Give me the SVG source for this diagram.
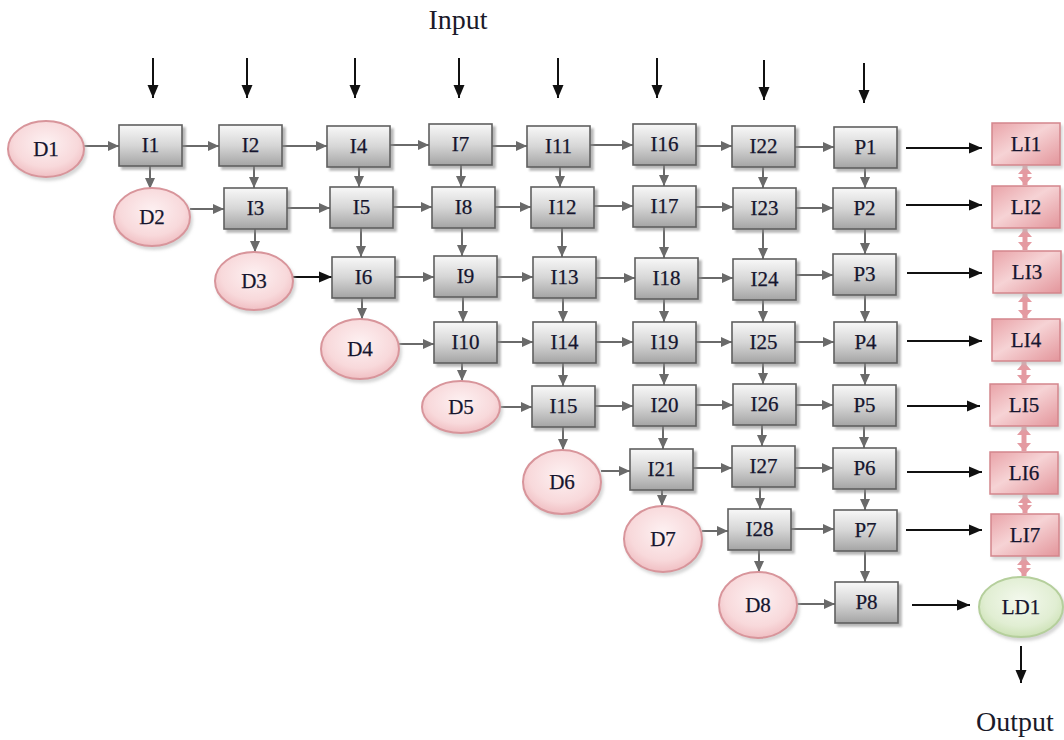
<svg xmlns="http://www.w3.org/2000/svg" width="1064" height="740" viewBox="0 0 1064 740">
<style>
.t{font-family:"Liberation Serif","Times New Roman",serif;font-size:21px;fill:#15152e;text-anchor:middle;stroke:#15152e;stroke-width:0.25}
.big{font-family:"Liberation Serif","Times New Roman",serif;font-size:28px;fill:#1a1a2a;text-anchor:middle}
.box{fill:url(#gBox);stroke:#5f5f5f;stroke-width:1.6;filter:url(#sh)}
.li{fill:url(#gLI);stroke:#d4868d;stroke-width:1.5;filter:url(#sh2)}
.d{fill:url(#gD);stroke:#d8959b;stroke-width:2;filter:url(#sh2)}
.ld{fill:url(#gLD);stroke:#b5cf9c;stroke-width:2;filter:url(#sh2)}
.g{stroke:#6a6a6a;stroke-width:2;fill:none;marker-end:url(#aG)}
.k{stroke:#111;stroke-width:2;fill:none;marker-end:url(#aK)}
.p{stroke:#e49aa1;stroke-width:5;fill:none;marker-end:url(#aP);marker-start:url(#aPs)}
</style>
<defs>
<linearGradient id="gBox" x1="0" y1="0" x2="0" y2="1">
<stop offset="0" stop-color="#f8f8f8"/><stop offset="0.5" stop-color="#d6d6d6"/><stop offset="1" stop-color="#a4a4a4"/>
</linearGradient>
<linearGradient id="gLI" x1="0" y1="0" x2="1" y2="1">
<stop offset="0" stop-color="#e9a3a8"/><stop offset="0.45" stop-color="#f6d3d5"/><stop offset="1" stop-color="#e3959b"/>
</linearGradient>
<radialGradient id="gD" cx="0.5" cy="0.4" r="0.6">
<stop offset="0" stop-color="#fdf1f2"/><stop offset="0.7" stop-color="#f8d9db"/><stop offset="1" stop-color="#f0bfc3"/>
</radialGradient>
<radialGradient id="gLD" cx="0.5" cy="0.4" r="0.6">
<stop offset="0" stop-color="#f4f9ee"/><stop offset="0.7" stop-color="#e1eed3"/><stop offset="1" stop-color="#cde2b6"/>
</radialGradient>
<filter id="sh" x="-10%" y="-10%" width="130%" height="140%">
<feDropShadow dx="3" dy="3" stdDeviation="1.2" flood-color="#888" flood-opacity="0.6"/>
</filter>
<filter id="sh2" x="-10%" y="-10%" width="130%" height="140%">
<feDropShadow dx="2" dy="3" stdDeviation="1.5" flood-color="#bbb" flood-opacity="0.6"/>
</filter>
<marker id="aG" markerUnits="userSpaceOnUse" markerWidth="12" markerHeight="12" refX="11" refY="6" orient="auto">
<path d="M0,1 L11,6 L0,11 z" fill="#6a6a6a"/>
</marker>
<marker id="aK" markerUnits="userSpaceOnUse" markerWidth="14" markerHeight="12" refX="13" refY="6" orient="auto">
<path d="M0,0.5 L13,6 L0,11.5 z" fill="#111"/>
</marker>
<marker id="aP" markerUnits="userSpaceOnUse" markerWidth="12" markerHeight="14" refX="8" refY="7" orient="auto">
<path d="M0,0 L8,7 L0,14 z" fill="#e49aa1"/>
</marker>
<marker id="aPs" markerUnits="userSpaceOnUse" markerWidth="12" markerHeight="14" refX="0" refY="7" orient="auto">
<path d="M8,0 L0,7 L8,14 z" fill="#e49aa1"/>
</marker>
</defs>
<rect width="1064" height="740" fill="#fff"/>
<text class="big" x="458" y="29">Input</text>
<text class="big" x="1015" y="731">Output</text>

<g id="connectors">
<line class="k" x1="153" y1="58" x2="153" y2="98"/>
<line class="k" x1="247" y1="58" x2="247" y2="98"/>
<line class="k" x1="355" y1="58" x2="355" y2="98"/>
<line class="k" x1="459" y1="58" x2="459" y2="98"/>
<line class="k" x1="558" y1="58" x2="558" y2="98"/>
<line class="k" x1="657" y1="58" x2="657" y2="98"/>
<line class="k" x1="764" y1="60" x2="764" y2="100"/>
<line class="k" x1="864" y1="63" x2="864" y2="103"/>
<line class="k" x1="1021" y1="646" x2="1021" y2="683"/>
<line class="k" x1="906" y1="148" x2="982" y2="148"/>
<line class="k" x1="906" y1="205" x2="982" y2="205"/>
<line class="k" x1="907" y1="273" x2="982" y2="273"/>
<line class="k" x1="907" y1="341" x2="982" y2="341"/>
<line class="k" x1="907" y1="406" x2="980" y2="406"/>
<line class="k" x1="907" y1="472" x2="982" y2="472"/>
<line class="k" x1="906" y1="530" x2="982" y2="530"/>
<line class="k" x1="912" y1="605" x2="970" y2="605"/>
<line class="k" x1="293" y1="277" x2="332" y2="277"/>
<line class="g" x1="84" y1="146" x2="119" y2="146"/>
<line class="g" x1="182" y1="146" x2="219" y2="146"/>
<line class="g" x1="282" y1="146" x2="327" y2="146"/>
<line class="g" x1="390" y1="145" x2="429" y2="145"/>
<line class="g" x1="492" y1="146" x2="527" y2="146"/>
<line class="g" x1="590" y1="145" x2="633" y2="145"/>
<line class="g" x1="696" y1="146" x2="732" y2="146"/>
<line class="g" x1="795" y1="147" x2="834" y2="147"/>
<line class="g" x1="190" y1="209" x2="224" y2="209"/>
<line class="g" x1="287" y1="208" x2="330" y2="208"/>
<line class="g" x1="393" y1="207" x2="432" y2="207"/>
<line class="g" x1="495" y1="207" x2="531" y2="207"/>
<line class="g" x1="594" y1="206" x2="633" y2="206"/>
<line class="g" x1="696" y1="207" x2="733" y2="207"/>
<line class="g" x1="796" y1="208" x2="833" y2="208"/>
<line class="g" x1="395" y1="277" x2="434" y2="277"/>
<line class="g" x1="497" y1="277" x2="533" y2="277"/>
<line class="g" x1="596" y1="278" x2="635" y2="278"/>
<line class="g" x1="698" y1="278" x2="733" y2="278"/>
<line class="g" x1="796" y1="275" x2="833" y2="275"/>
<line class="g" x1="399" y1="344" x2="434" y2="344"/>
<line class="g" x1="497" y1="342" x2="533" y2="342"/>
<line class="g" x1="596" y1="342" x2="633" y2="342"/>
<line class="g" x1="696" y1="342" x2="732" y2="342"/>
<line class="g" x1="795" y1="342" x2="834" y2="342"/>
<line class="g" x1="500" y1="407" x2="532" y2="407"/>
<line class="g" x1="595" y1="406" x2="633" y2="406"/>
<line class="g" x1="696" y1="405" x2="733" y2="405"/>
<line class="g" x1="796" y1="405" x2="833" y2="405"/>
<line class="g" x1="601" y1="471" x2="630" y2="471"/>
<line class="g" x1="693" y1="468" x2="732" y2="468"/>
<line class="g" x1="795" y1="468" x2="833" y2="468"/>
<line class="g" x1="702" y1="531" x2="728" y2="531"/>
<line class="g" x1="791" y1="529" x2="834" y2="529"/>
<line class="g" x1="797" y1="604" x2="835" y2="604"/>
<line class="g" x1="150" y1="166" x2="150" y2="189"/>
<line class="g" x1="254" y1="166" x2="254" y2="188"/>
<line class="g" x1="255" y1="229" x2="255" y2="252"/>
<line class="g" x1="359" y1="167" x2="359" y2="187"/>
<line class="g" x1="361" y1="228" x2="361" y2="257"/>
<line class="g" x1="362" y1="298" x2="362" y2="319"/>
<line class="g" x1="461" y1="165" x2="461" y2="187"/>
<line class="g" x1="462" y1="228" x2="462" y2="256"/>
<line class="g" x1="463" y1="297" x2="463" y2="322"/>
<line class="g" x1="462" y1="363" x2="462" y2="381"/>
<line class="g" x1="560" y1="167" x2="560" y2="187"/>
<line class="g" x1="562" y1="228" x2="562" y2="257"/>
<line class="g" x1="563" y1="298" x2="563" y2="322"/>
<line class="g" x1="563" y1="363" x2="563" y2="386"/>
<line class="g" x1="563" y1="427" x2="563" y2="450"/>
<line class="g" x1="664" y1="165" x2="664" y2="186"/>
<line class="g" x1="664" y1="227" x2="664" y2="258"/>
<line class="g" x1="664" y1="299" x2="664" y2="322"/>
<line class="g" x1="664" y1="363" x2="664" y2="385"/>
<line class="g" x1="663" y1="426" x2="663" y2="449"/>
<line class="g" x1="662" y1="490" x2="662" y2="506"/>
<line class="g" x1="763" y1="167" x2="763" y2="188"/>
<line class="g" x1="763" y1="229" x2="763" y2="259"/>
<line class="g" x1="763" y1="300" x2="763" y2="322"/>
<line class="g" x1="763" y1="363" x2="763" y2="384"/>
<line class="g" x1="762" y1="425" x2="762" y2="446"/>
<line class="g" x1="760" y1="487" x2="760" y2="509"/>
<line class="g" x1="759" y1="550" x2="759" y2="572"/>
<line class="g" x1="865" y1="168" x2="865" y2="188"/>
<line class="g" x1="865" y1="229" x2="865" y2="254"/>
<line class="g" x1="865" y1="295" x2="865" y2="322"/>
<line class="g" x1="865" y1="363" x2="865" y2="385"/>
<line class="g" x1="864" y1="426" x2="864" y2="448"/>
<line class="g" x1="865" y1="489" x2="865" y2="510"/>
<line class="g" x1="865" y1="551" x2="865" y2="582"/>
<line class="p" x1="1025" y1="166" x2="1025" y2="185"/>
<line class="p" x1="1025" y1="229" x2="1025" y2="250"/>
<line class="p" x1="1025" y1="294" x2="1025" y2="318"/>
<line class="p" x1="1024" y1="362" x2="1024" y2="383"/>
<line class="p" x1="1024" y1="427" x2="1024" y2="451"/>
<line class="p" x1="1025" y1="495" x2="1025" y2="513"/>
<line class="p" x1="1024" y1="557" x2="1024" y2="576"/>
</g>

<g id="D1"><ellipse class="d" cx="46" cy="149" rx="38" ry="28"/><text class="t" x="46" y="156">D1</text></g>
<g id="D2"><ellipse class="d" cx="152" cy="217" rx="38" ry="29"/><text class="t" x="152" y="224">D2</text></g>
<g id="D3"><ellipse class="d" cx="254" cy="281" rx="39" ry="29"/><text class="t" x="254" y="288">D3</text></g>
<g id="D4"><ellipse class="d" cx="360" cy="349" rx="39" ry="30"/><text class="t" x="360" y="356">D4</text></g>
<g id="D5"><ellipse class="d" cx="461" cy="407" rx="39" ry="26"/><text class="t" x="461" y="414">D5</text></g>
<g id="D6"><ellipse class="d" cx="562" cy="482" rx="39" ry="32"/><text class="t" x="562" y="489">D6</text></g>
<g id="D7"><ellipse class="d" cx="663" cy="539" rx="39" ry="33"/><text class="t" x="663" y="546">D7</text></g>
<g id="D8"><ellipse class="d" cx="758" cy="605" rx="39" ry="33"/><text class="t" x="758" y="612">D8</text></g>
<g id="LD1"><ellipse class="ld" cx="1021" cy="607" rx="42" ry="30"/><text class="t" x="1021" y="614">LD1</text></g>

<g id="I1"><rect class="box" x="119" y="125" width="63" height="41"/><text class="t" x="150.5" y="152">I1</text></g>
<g id="I2"><rect class="box" x="219" y="125" width="63" height="41"/><text class="t" x="250.5" y="152">I2</text></g>
<g id="I4"><rect class="box" x="327" y="126" width="63" height="41"/><text class="t" x="358.5" y="153">I4</text></g>
<g id="I7"><rect class="box" x="429" y="124" width="63" height="41"/><text class="t" x="460.5" y="151">I7</text></g>
<g id="I11"><rect class="box" x="527" y="126" width="63" height="41"/><text class="t" x="558.5" y="153">I11</text></g>
<g id="I16"><rect class="box" x="633" y="124" width="63" height="41"/><text class="t" x="664.5" y="151">I16</text></g>
<g id="I22"><rect class="box" x="732" y="126" width="63" height="41"/><text class="t" x="763.5" y="153">I22</text></g>
<g id="P1"><rect class="box" x="834" y="127" width="63" height="41"/><text class="t" x="865.5" y="154">P1</text></g>
<g id="LI1"><rect class="li" x="992" y="123" width="68" height="42"/><text class="t" x="1026" y="151">LI1</text></g>
<g id="I3"><rect class="box" x="224" y="188" width="63" height="41"/><text class="t" x="255.5" y="215">I3</text></g>
<g id="I5"><rect class="box" x="330" y="187" width="63" height="41"/><text class="t" x="361.5" y="214">I5</text></g>
<g id="I8"><rect class="box" x="432" y="187" width="63" height="41"/><text class="t" x="463.5" y="214">I8</text></g>
<g id="I12"><rect class="box" x="531" y="187" width="63" height="41"/><text class="t" x="562.5" y="214">I12</text></g>
<g id="I17"><rect class="box" x="633" y="186" width="63" height="41"/><text class="t" x="664.5" y="213">I17</text></g>
<g id="I23"><rect class="box" x="733" y="188" width="63" height="41"/><text class="t" x="764.5" y="215">I23</text></g>
<g id="P2"><rect class="box" x="833" y="188" width="63" height="41"/><text class="t" x="864.5" y="215">P2</text></g>
<g id="LI2"><rect class="li" x="992" y="186" width="68" height="42"/><text class="t" x="1026" y="214">LI2</text></g>
<g id="I6"><rect class="box" x="332" y="257" width="63" height="41"/><text class="t" x="363.5" y="284">I6</text></g>
<g id="I9"><rect class="box" x="434" y="256" width="63" height="41"/><text class="t" x="465.5" y="283">I9</text></g>
<g id="I13"><rect class="box" x="533" y="257" width="63" height="41"/><text class="t" x="564.5" y="284">I13</text></g>
<g id="I18"><rect class="box" x="635" y="258" width="63" height="41"/><text class="t" x="666.5" y="285">I18</text></g>
<g id="I24"><rect class="box" x="733" y="259" width="63" height="41"/><text class="t" x="764.5" y="286">I24</text></g>
<g id="P3"><rect class="box" x="833" y="254" width="63" height="41"/><text class="t" x="864.5" y="281">P3</text></g>
<g id="LI3"><rect class="li" x="993" y="251" width="68" height="42"/><text class="t" x="1027" y="279">LI3</text></g>
<g id="I10"><rect class="box" x="434" y="322" width="63" height="41"/><text class="t" x="465.5" y="349">I10</text></g>
<g id="I14"><rect class="box" x="533" y="322" width="63" height="41"/><text class="t" x="564.5" y="349">I14</text></g>
<g id="I19"><rect class="box" x="633" y="322" width="63" height="41"/><text class="t" x="664.5" y="349">I19</text></g>
<g id="I25"><rect class="box" x="732" y="322" width="63" height="41"/><text class="t" x="763.5" y="349">I25</text></g>
<g id="P4"><rect class="box" x="834" y="322" width="63" height="41"/><text class="t" x="865.5" y="349">P4</text></g>
<g id="LI4"><rect class="li" x="992" y="319" width="68" height="42"/><text class="t" x="1026" y="347">LI4</text></g>
<g id="I15"><rect class="box" x="532" y="386" width="63" height="41"/><text class="t" x="563.5" y="413">I15</text></g>
<g id="I20"><rect class="box" x="633" y="385" width="63" height="41"/><text class="t" x="664.5" y="412">I20</text></g>
<g id="I26"><rect class="box" x="733" y="384" width="63" height="41"/><text class="t" x="764.5" y="411">I26</text></g>
<g id="P5"><rect class="box" x="833" y="385" width="63" height="41"/><text class="t" x="864.5" y="412">P5</text></g>
<g id="LI5"><rect class="li" x="990" y="384" width="68" height="42"/><text class="t" x="1024" y="412">LI5</text></g>
<g id="I21"><rect class="box" x="630" y="449" width="63" height="41"/><text class="t" x="661.5" y="476">I21</text></g>
<g id="I27"><rect class="box" x="732" y="446" width="63" height="41"/><text class="t" x="763.5" y="473">I27</text></g>
<g id="P6"><rect class="box" x="833" y="448" width="63" height="41"/><text class="t" x="864.5" y="475">P6</text></g>
<g id="LI6"><rect class="li" x="990" y="452" width="68" height="42"/><text class="t" x="1024" y="480">LI6</text></g>
<g id="I28"><rect class="box" x="728" y="509" width="63" height="41"/><text class="t" x="759.5" y="536">I28</text></g>
<g id="P7"><rect class="box" x="834" y="510" width="63" height="41"/><text class="t" x="865.5" y="537">P7</text></g>
<g id="LI7"><rect class="li" x="991" y="514" width="68" height="42"/><text class="t" x="1025" y="542">LI7</text></g>
<g id="P8"><rect class="box" x="835" y="582" width="63" height="41"/><text class="t" x="866.5" y="609">P8</text></g>
</svg>
